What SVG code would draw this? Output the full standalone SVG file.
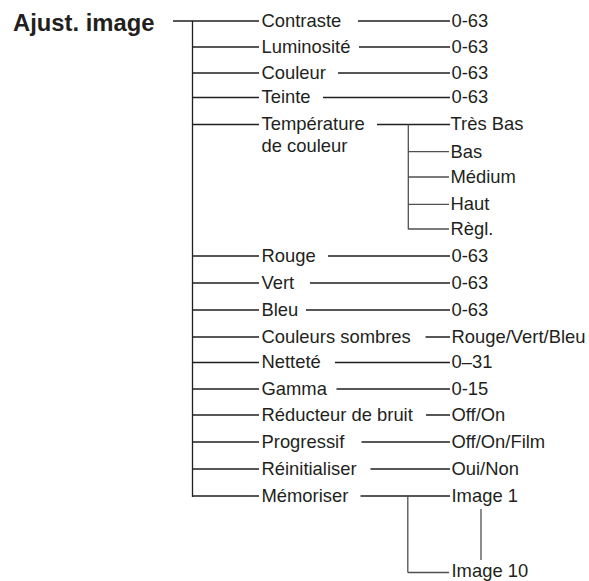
<svg xmlns="http://www.w3.org/2000/svg" width="589" height="581" viewBox="0 0 589 581">
<style>
text{font-family:"Liberation Sans",Arial,sans-serif;font-size:18.4px;fill:#231f20}
.title{font-weight:bold;font-size:23.8px}
.ln{stroke:#231f20;stroke-width:1.3;fill:none}
.sub{stroke:#505050;stroke-width:1.3;fill:none}
</style>
<rect width="589" height="581" fill="#fff"/>
<g id="connectors">
<path class="ln" d="M173 21H259M192.5 21V497M192.5 47H259M192.5 73H259M192.5 97.5H259M192.5 124.5H259M192.5 256H259M192.5 283H259M192.5 310H259M192.5 337H259M192.5 362.5H259M192.5 389H259M192.5 415H259M192.5 442H259M192.5 469H259M192.5 496H259"/>
<path class="ln" d="M358 21H450M359 47H450M338 73H450M323 97.5H450M377 124.5H450M328 256H450M310 283H450M306 310H450M425.5 337H450M335 362.5H450M336.5 389H450M426 415H450M361.5 442H450M370.5 469H450M360.5 496H450"/>
<path class="sub" d="M408.3 124.5V229.5M408.3 151.7H449M408.3 177H449M408.3 204.3H449M408.3 229H449"/>
<path class="sub" d="M407.8 496V572.5M407.8 572.5H449M481 509V560"/>
</g>
<g id="title"><text class="title" x="13" y="30.5">Ajust. image</text></g>
<g id="n-contraste"><text x="261.5" y="26.8">Contraste</text><text x="451.5" y="26.8">0-63</text></g>
<g id="n-luminosite"><text x="261.5" y="52.6">Luminosité</text><text x="451.5" y="52.6">0-63</text></g>
<g id="n-couleur"><text x="261.5" y="78.8">Couleur</text><text x="451.5" y="78.8">0-63</text></g>
<g id="n-teinte"><text x="261.5" y="103.2">Teinte</text><text x="451.5" y="103.2">0-63</text></g>
<g id="n-temperature"><text x="261.5" y="130.3">Température</text><text x="261.5" y="151.5">de couleur</text></g>
<g id="n-tresbas"><text x="450.5" y="130.3">Très Bas</text></g>
<g id="n-bas"><text x="450.5" y="157.5">Bas</text></g>
<g id="n-medium"><text x="450.5" y="182.8">Médium</text></g>
<g id="n-haut"><text x="450.5" y="210">Haut</text></g>
<g id="n-regl"><text x="450.5" y="234.8">Règl.</text></g>
<g id="n-rouge"><text x="261.5" y="261.8">Rouge</text><text x="451.5" y="261.8">0-63</text></g>
<g id="n-vert"><text x="261.5" y="288.8">Vert</text><text x="451.5" y="288.8">0-63</text></g>
<g id="n-bleu"><text x="261.5" y="315.8">Bleu</text><text x="451.5" y="315.8">0-63</text></g>
<g id="n-sombres"><text x="261.5" y="342.8">Couleurs sombres</text><text x="451.5" y="342.8">Rouge/Vert/Bleu</text></g>
<g id="n-nettete"><text x="261.5" y="368.3">Netteté</text><text x="451.5" y="368.3">0–31</text></g>
<g id="n-gamma"><text x="261.5" y="394.8">Gamma</text><text x="451.5" y="394.8">0-15</text></g>
<g id="n-reducteur"><text x="261.5" y="420.8">Réducteur de bruit</text><text x="451.5" y="420.8">Off/On</text></g>
<g id="n-progressif"><text x="261.5" y="447.8">Progressif</text><text x="451.5" y="447.8">Off/On/Film</text></g>
<g id="n-reinit"><text x="261.5" y="474.8">Réinitialiser</text><text x="451.5" y="474.8">Oui/Non</text></g>
<g id="n-memoriser"><text x="261.5" y="501.8">Mémoriser</text></g>
<g id="n-image1"><text x="451.5" y="501.8">Image 1</text></g>
<g id="n-image10"><text x="451.5" y="577">Image 10</text></g>
</svg>
